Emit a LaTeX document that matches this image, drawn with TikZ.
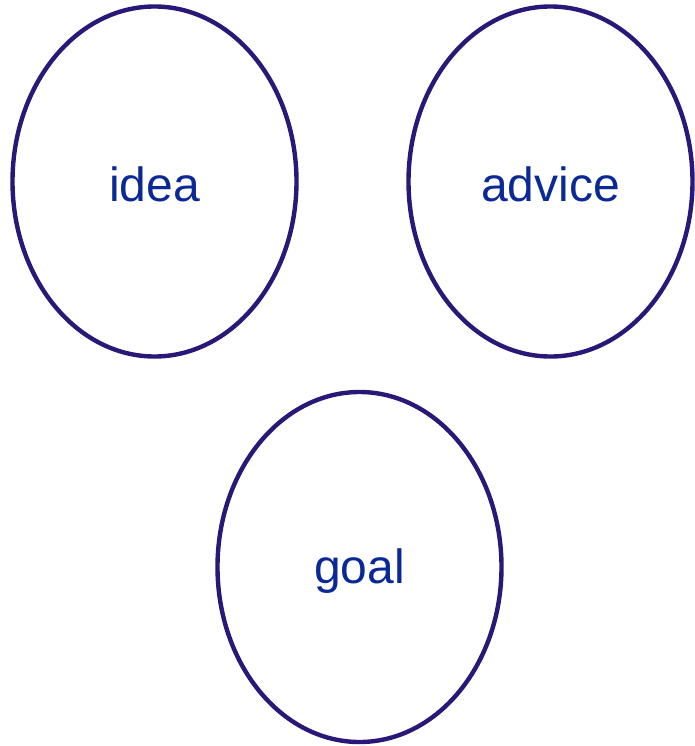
\documentclass[tikz,border=0pt]{standalone}
\usepackage{fontspec}
\setmainfont{Liberation Sans}
\usetikzlibrary{shapes.geometric}
\definecolor{outl}{HTML}{2A1878}
\definecolor{txt}{HTML}{0A2896}
\tikzset{
  bubble/.style={ellipse, draw=outl, line width=4.4pt, inner sep=0pt,
    minimum width=284pt, minimum height=350pt},
  lbl/.style={text=txt, font=\fontsize{48}{52}\selectfont, inner sep=0pt},
}
\begin{document}
\begin{tikzpicture}[x=1pt,y=1pt]
\useasboundingbox (0,0) rectangle (695,-746);
\node[bubble] (idea) at (154.5,-181.5) {};
\node[bubble] (advice) at (550.5,-181.5) {};
\node[bubble] (goal) at (359.5,-567) {};
\node[lbl] (ideaT) at ([yshift=-3pt]idea.center) {idea};
\node[lbl] (adviceT) at ([yshift=-3pt]advice.center) {advice};
\node[lbl] (goalT) at ([yshift=-4pt]goal.center) {goal};
\end{tikzpicture}
\end{document}
